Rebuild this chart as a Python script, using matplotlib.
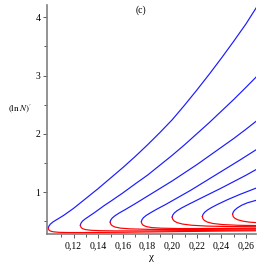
import matplotlib
matplotlib.use("Agg")
import matplotlib.pyplot as plt
from matplotlib.ticker import FuncFormatter

plt.rcParams['font.family'] = ['Liberation Serif', 'DejaVu Serif']
plt.rcParams['mathtext.fontset'] = 'stix'

# upper branches (blue), digitised (chi, (ln N)')
upper = [
    ([0.0995, 0.1, 0.1012, 0.1035, 0.107, 0.112, 0.12, 0.13, 0.14, 0.15, 0.16, 0.17,
      0.18, 0.19, 0.20, 0.21, 0.22, 0.23, 0.24, 0.25, 0.26, 0.2684],
     [0.38, 0.415, 0.45, 0.49, 0.535, 0.60, 0.72, 0.89, 1.06, 1.24, 1.42, 1.61,
      1.81, 2.02, 2.24, 2.49, 2.75, 3.02, 3.30, 3.59, 3.89, 4.17]),
    ([0.1255, 0.126, 0.1272, 0.1295, 0.133, 0.1375, 0.145, 0.15, 0.16, 0.17, 0.18,
      0.19, 0.20, 0.21, 0.22, 0.23, 0.24, 0.25, 0.26, 0.2684],
     [0.43, 0.465, 0.50, 0.54, 0.59, 0.655, 0.77, 0.84, 0.985, 1.14, 1.29,
      1.46, 1.63, 1.81, 2.0, 2.19, 2.39, 2.59, 2.80, 2.98]),
    ([0.1497, 0.1502, 0.1514, 0.1537, 0.157, 0.162, 0.17, 0.18, 0.19, 0.20, 0.21,
      0.22, 0.23, 0.24, 0.25, 0.26, 0.2684],
     [0.485, 0.52, 0.555, 0.595, 0.64, 0.70, 0.80, 0.93, 1.06, 1.19, 1.33,
      1.47, 1.62, 1.77, 1.92, 2.08, 2.22]),
    ([0.175, 0.1755, 0.1767, 0.179, 0.1825, 0.187, 0.195, 0.205, 0.215, 0.225,
      0.235, 0.245, 0.255, 0.2684],
     [0.49, 0.525, 0.56, 0.60, 0.645, 0.70, 0.79, 0.91, 1.03, 1.16,
      1.29, 1.42, 1.55, 1.73]),
    ([0.2, 0.2005, 0.2017, 0.204, 0.2075, 0.212, 0.22, 0.23, 0.24, 0.25, 0.26, 0.2684],
     [0.57, 0.605, 0.64, 0.68, 0.725, 0.775, 0.86, 0.965, 1.07, 1.18, 1.29, 1.39]),
    ([0.2245, 0.225, 0.2262, 0.2285, 0.232, 0.2365, 0.245, 0.255, 0.2684],
     [0.58, 0.615, 0.65, 0.69, 0.735, 0.785, 0.87, 0.96, 1.07]),
    ([0.249, 0.2495, 0.2507, 0.253, 0.2565, 0.261, 0.2684],
     [0.62, 0.655, 0.69, 0.73, 0.775, 0.815, 0.86]),
]

# lower branches (red)
lower = [
    ([0.0995, 0.0999, 0.101, 0.1035, 0.108, 0.115, 0.13, 0.16, 0.2, 0.24, 0.2684],
     [0.38, 0.352, 0.332, 0.318, 0.309, 0.305, 0.305, 0.31, 0.32, 0.33, 0.335]),
    ([0.1255, 0.1259, 0.127, 0.1295, 0.134, 0.142, 0.155, 0.18, 0.21, 0.24, 0.2684],
     [0.43, 0.40, 0.375, 0.356, 0.344, 0.337, 0.333, 0.333, 0.338, 0.344, 0.35]),
    ([0.1497, 0.1501, 0.1512, 0.1535, 0.158, 0.166, 0.18, 0.2, 0.23, 0.2684],
     [0.485, 0.452, 0.425, 0.40, 0.381, 0.368, 0.36, 0.357, 0.36, 0.368]),
    ([0.175, 0.1754, 0.1765, 0.179, 0.1835, 0.191, 0.205, 0.23, 0.2684],
     [0.49, 0.457, 0.43, 0.407, 0.39, 0.38, 0.374, 0.374, 0.38]),
    ([0.2, 0.2004, 0.2015, 0.204, 0.2085, 0.216, 0.228, 0.245, 0.2684],
     [0.57, 0.535, 0.505, 0.475, 0.45, 0.43, 0.416, 0.408, 0.405]),
    ([0.2245, 0.2249, 0.226, 0.2285, 0.233, 0.241, 0.253, 0.2684],
     [0.58, 0.545, 0.515, 0.485, 0.46, 0.442, 0.43, 0.424]),
    ([0.249, 0.2494, 0.2505, 0.253, 0.2575, 0.2625, 0.2684],
     [0.62, 0.585, 0.555, 0.525, 0.50, 0.484, 0.475]),
]

xticks = [0.12, 0.14, 0.16, 0.18, 0.20, 0.22, 0.24, 0.26]
xminor = [0.11, 0.13, 0.15, 0.17, 0.19, 0.21, 0.23, 0.25]
yticks = [1, 2, 3, 4]
yminor = [0.5, 1.5, 2.5, 3.5]

fig = plt.figure(figsize=(2.62, 2.62), dpi=100)
ax = fig.add_axes([47.3/262, 28/262, 208.7/262, 229/262])

for xs, ys in upper:
    ax.plot(xs, ys, color='#1a1aff', lw=0.85, solid_joinstyle='round')
for xs, ys in lower:
    ax.plot(xs, ys, color='#ff0000', lw=0.85, solid_joinstyle='round')

ax.set_xlim(0.0987, 0.268)
ax.set_ylim(0.28, 4.21)

for s in ['top', 'right']:
    ax.spines[s].set_visible(False)
for s in ['left', 'bottom']:
    ax.spines[s].set_color('#808080')
    ax.spines[s].set_linewidth(1.2)

ax.set_xticks(xticks)
ax.set_xticks(xminor, minor=True)
ax.set_yticks(yticks)
ax.set_yticks(yminor, minor=True)
ax.xaxis.set_major_formatter(FuncFormatter(lambda v, p: ('%.2f' % v).replace('.', ',')))
ax.tick_params(which='both', direction='out', colors='#404040', labelsize=7,
               width=0.6, pad=2)
ax.tick_params(which='major', length=3)
ax.tick_params(which='minor', length=2)
ax.tick_params(labelcolor='black')

ax.set_xlabel('χ', fontsize=8, labelpad=2)
fig.text(20/262, 1 - 109/262, r"$(\ln N)'$", fontsize=6.5, ha='center', va='center')
fig.text(141/262, 1 - 10/262, '(c)', fontsize=7, ha='center', va='center')

fig.savefig('out.png', dpi=100)
